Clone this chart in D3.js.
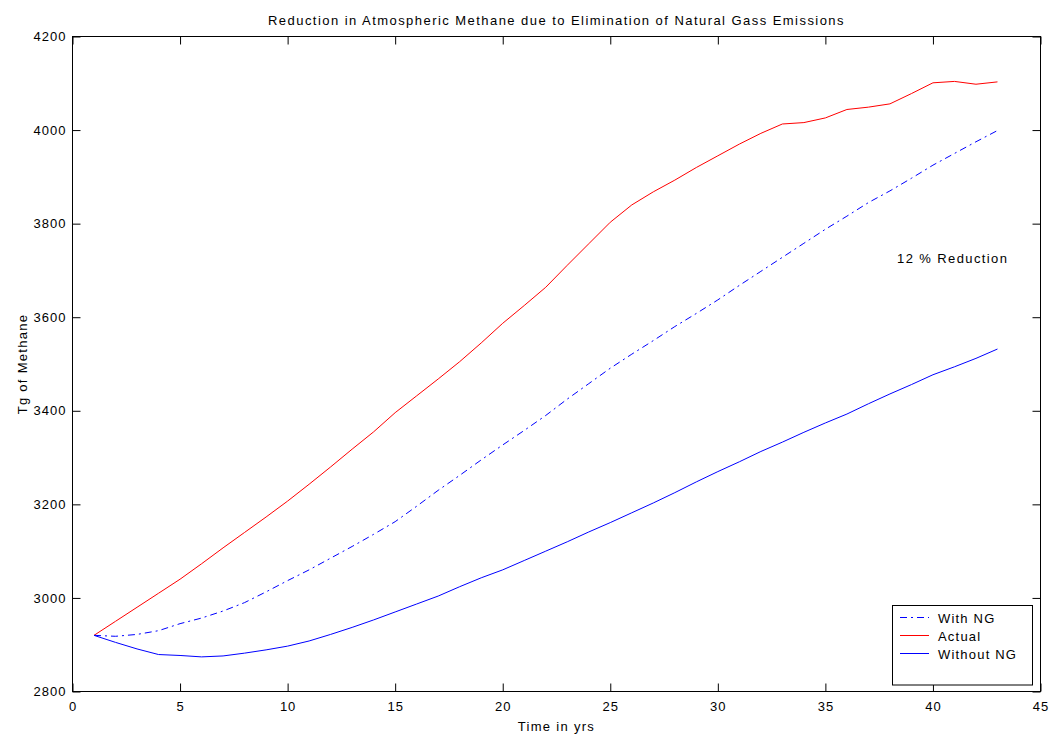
<!DOCTYPE html>
<html><head><meta charset="utf-8">
<script src="https://cdn.jsdelivr.net/npm/d3@7"></script>
<style>
body{margin:0;background:#fff;}
text{font-family:"Liberation Sans",Arial,Helvetica,sans-serif;}
</style></head>
<body><svg id="c" width="1052" height="736"></svg>
<script>
const years = d3.range(1, 44);
const actual = [2920,2950,2980,3010,3040,3073,3107,3140,3173,3207,3243,3280,3318,3355,3396,3432,3468,3505,3545,3587,3625,3664,3711,3757,3803,3840,3868,3893,3920,3945,3970,3993,4013,4016,4026,4044,4049,4056,4078,4101,4104,4098,4103];
const withNG = [2920,2918,2922,2930,2945,2957,2972,2990,3013,3037,3060,3085,3110,3136,3163,3196,3230,3262,3295,3327,3358,3390,3425,3458,3491,3521,3550,3580,3608,3637,3668,3698,3728,3758,3788,3816,3845,3870,3897,3925,3950,3975,3999];
const withoutNG = [2920,2905,2891,2879,2877,2874,2876,2882,2889,2897,2908,2922,2937,2953,2970,2987,3004,3024,3043,3060,3080,3100,3120,3141,3161,3182,3203,3225,3248,3270,3291,3313,3333,3354,3374,3393,3415,3436,3456,3477,3494,3512,3532];
const xTicks = [0,5,10,15,20,25,30,35,40,45];
const yTicks = [2800,3000,3200,3400,3600,3800,4000,4200];
const seriesNames = ["With NG","Actual","Without NG"];
const titleText = "Reduction in Atmospheric Methane due to Elimination of Natural Gass Emissions";
const noteText = "12 % Reduction";

const svg = d3.select("#c");
const L=72.5, R=1040.5, T=36.5, B=691.5;
const x = d3.scaleLinear().domain([0,45]).range([L,R]);
const y = d3.scaleLinear().domain([2800,4200]).range([B,T]);

const fs = 13;
svg.append("rect").attr("x",L).attr("y",T).attr("width",R-L).attr("height",B-T)
  .attr("fill","none").attr("stroke","#000").attr("stroke-width",1);

const tl = 8;
const fmt = d3.format("d");
const axB = d3.axisBottom(x).tickValues(xTicks).tickSizeInner(-tl).tickSizeOuter(0).tickPadding(10).tickFormat(fmt);
const axT = d3.axisTop(x).tickValues(xTicks).tickSizeInner(-tl).tickSizeOuter(0).tickFormat("");
const axL = d3.axisLeft(y).tickValues(yTicks).tickSizeInner(-tl).tickSizeOuter(0).tickPadding(6).tickFormat(fmt);
const axR = d3.axisRight(y).tickValues(yTicks).tickSizeInner(-tl).tickSizeOuter(0).tickFormat("");
function style(g){ g.select(".domain").remove(); g.selectAll("line").attr("stroke","#000");
  g.selectAll("text").attr("font-size",fs).attr("fill","#000").attr("letter-spacing","1px")
   .attr("font-family","Liberation Sans, Arial, sans-serif"); }
svg.append("g").attr("transform",`translate(0,${B})`).call(axB).call(style);
svg.append("g").attr("transform",`translate(0,${T})`).call(axT).call(style);
svg.append("g").attr("transform",`translate(${L},0)`).call(axL).call(style);
svg.append("g").attr("transform",`translate(${R},0)`).call(axR).call(style);

const line = d3.line().x((d,i)=>x(years[i])).y(d=>y(d));
svg.append("path").datum(actual).attr("d",line).attr("fill","none").attr("stroke","#ff0000").attr("stroke-width",1);
svg.append("path").datum(withNG).attr("d",line).attr("fill","none").attr("stroke","#0000ff").attr("stroke-width",1).attr("stroke-dasharray","7,4,2,4");
svg.append("path").datum(withoutNG).attr("d",line).attr("fill","none").attr("stroke","#0000ff").attr("stroke-width",1);

svg.append("text").attr("x",(L+R)/2).attr("y",25).attr("text-anchor","middle").attr("font-size",fs).attr("letter-spacing","1.45px").text(titleText);
svg.append("text").attr("x",(L+R)/2).attr("y",731).attr("text-anchor","middle").attr("font-size",fs).attr("letter-spacing","1.3px").text("Time in yrs");
svg.append("text").attr("transform",`translate(27,${(T+B)/2}) rotate(-90)`).attr("text-anchor","middle").attr("font-size",fs).attr("letter-spacing","1.3px").text("Tg of Methane");
svg.append("text").attr("x",897).attr("y",263).attr("font-size",fs).attr("letter-spacing","1.4px").text(noteText);

const lg = svg.append("g");
lg.append("rect").attr("x",892.5).attr("y",605.5).attr("width",140).attr("height",79.5).attr("fill","#fff").attr("stroke","#000");
const colors = ["#0000ff","#ff0000","#0000ff"];
const dashes = ["7,4,2,4","none","none"];
seriesNames.forEach((n,i)=>{
  const yy = 617.5 + i*18;
  lg.append("line").attr("x1",900).attr("x2",929).attr("y1",yy).attr("y2",yy)
    .attr("stroke",colors[i]).attr("stroke-width",1).attr("stroke-dasharray",dashes[i]);
  lg.append("text").attr("x",938).attr("y",yy+5).attr("font-size",fs).attr("letter-spacing","1.2px").text(n);
});
</script></body></html>
